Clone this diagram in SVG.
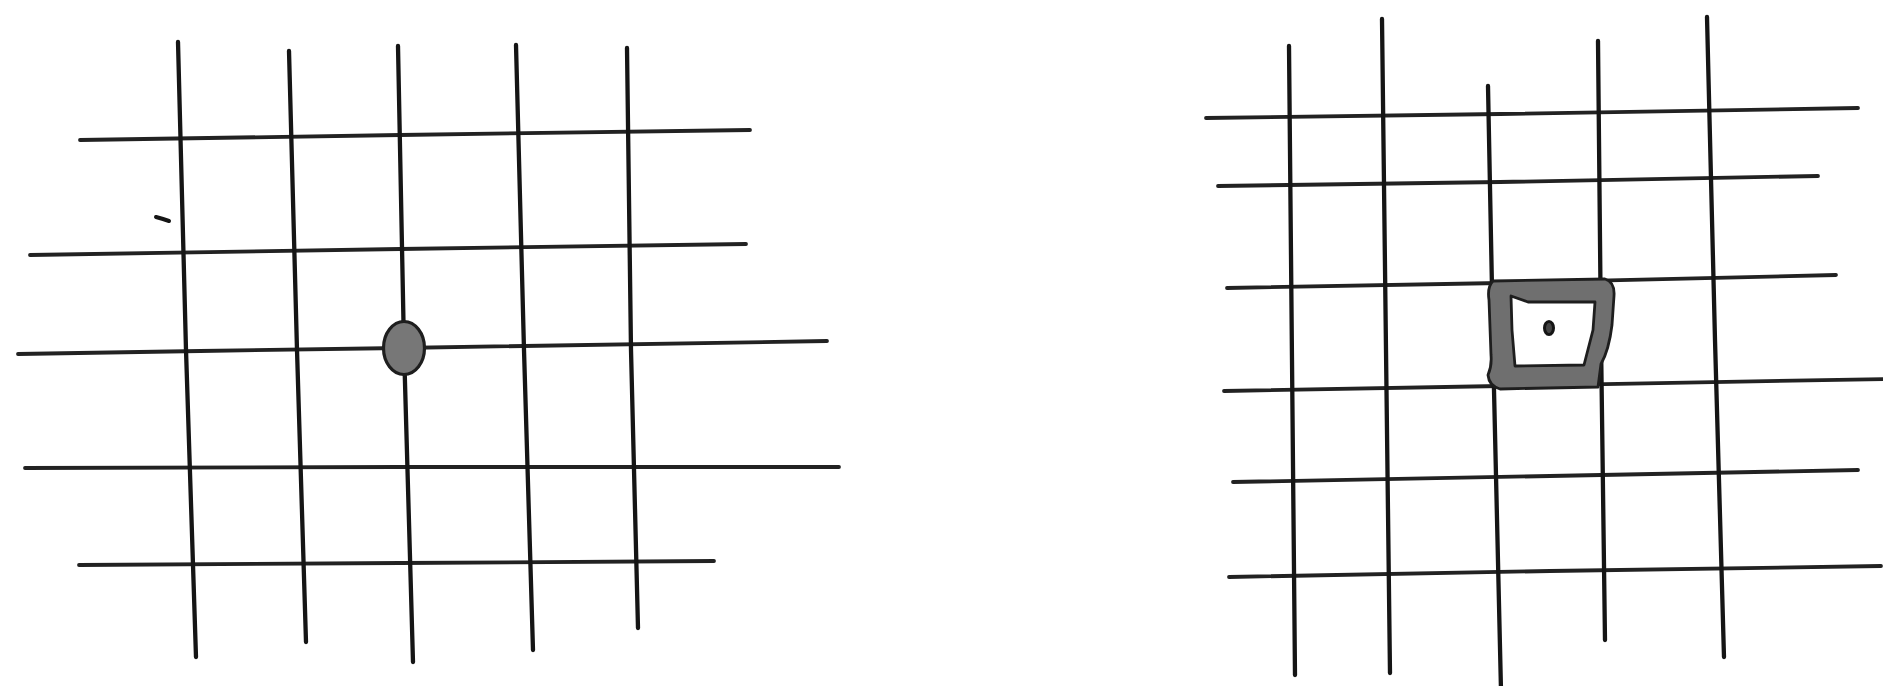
<svg xmlns="http://www.w3.org/2000/svg" width="1883" height="686" viewBox="0 0 1883 686">
<style>
.v{stroke:#151515;stroke-width:4.3;stroke-linecap:round;fill:none}
.h{stroke:#222222;stroke-width:3.8;stroke-linecap:round;fill:none}
</style>
<rect width="1883" height="686" fill="#ffffff"/>
<g id="left-grid">
<g id="left-horizontals">
<path class="h" d="M80,140 L400,135 L750,130"/>
<path class="h" d="M30,255 L400,249 L746,244"/>
<path class="h" d="M18,354 L200,351 L400,348 L827,341"/>
<path class="h" d="M25,468 L400,467 L839,467"/>
<path class="h" d="M79,565 L400,563 L714,561"/>
</g>
<g id="left-verticals">
<path class="v" d="M178,42 L186,350 L196,657"/>
<path class="v" d="M289,51 L297,350 L306,642"/>
<path class="v" d="M398,46 L404,348 L413,662"/>
<path class="v" d="M516,45 L524,350 L533,650"/>
<path class="v" d="M627,48 L631,350 L638,628"/>
</g>
<path id="tick" d="M156,217 L163,219 L169,221" stroke="#151515" stroke-width="4" stroke-linecap="round" fill="none"/>
<ellipse id="dot-left" cx="404" cy="348" rx="20.5" ry="26.5" fill="#777777" stroke="#1e1e1e" stroke-width="3.2"/>
</g>
<g id="right-grid">
<g id="right-horizontals">
<path class="h" d="M1206,118 L1500,114 L1858,108"/>
<path class="h" d="M1218,186 L1500,182 L1818,176"/>
<path class="h" d="M1227,288 L1500,283 L1836,275"/>
<path class="h" d="M1224,391 L1500,386 L1885,379"/>
<path class="h" d="M1233,482 L1550,476 L1858,470"/>
<path class="h" d="M1229,577 L1550,571 L1881,566"/>
</g>
<g id="right-verticals">
<path class="v" d="M1289,46 L1292,360 L1295,675"/>
<path class="v" d="M1382,19 L1386,350 L1390,673"/>
<path class="v" d="M1488,86 L1494,390 L1501,690"/>
<path class="v" d="M1598,41 L1601,340 L1605,640"/>
<path class="v" d="M1707,17 L1715,340 L1724,657"/>
</g>
<g id="square">
<path d="M1493,281 L1605,279 Q1615,282 1614,296 L1612,325 Q1609,350 1601,364 L1598,387 L1500,389 Q1489,386 1488,375 Q1492,366 1491,355 L1489,300 Q1487,287 1493,281 Z M1511,296 L1528,302 L1595,302 L1593,330 L1584,365 L1515,366 L1512,330 Z" fill="#6f6f6f" fill-rule="evenodd" stroke="#1e1e1e" stroke-width="2.8" stroke-linejoin="round"/>
<ellipse id="dot-right" cx="1549" cy="328" rx="4.5" ry="6.5" fill="#444444" stroke="#151515" stroke-width="3"/>
</g>
</g>
</svg>
